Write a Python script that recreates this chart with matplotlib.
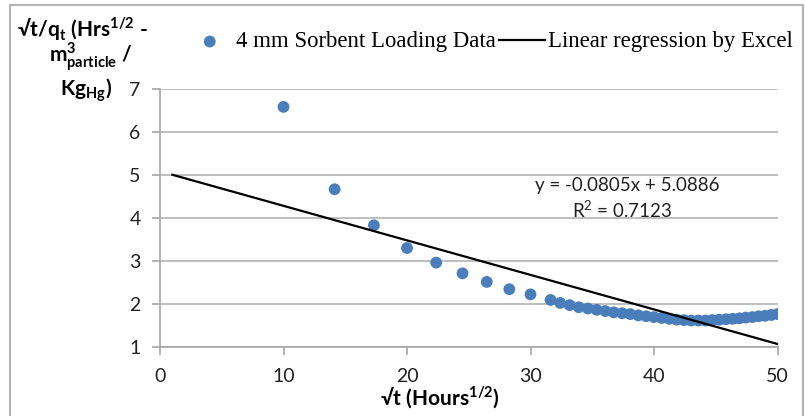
import numpy as np
import matplotlib
matplotlib.use("Agg")
import matplotlib.pyplot as plt
from matplotlib.lines import Line2D

# time in hours (x axis is sqrt of time)
hours = [100, 200, 300, 400, 500, 600, 700, 800, 900, 1000,
         1050, 1100, 1150, 1200, 1250, 1300, 1350, 1400, 1450, 1500,
         1550, 1600, 1650, 1700, 1750, 1800, 1850, 1900, 1950, 2000,
         2050, 2100, 2150, 2200, 2250, 2300, 2350, 2400, 2450, 2500]
loading = [6.59, 4.67, 3.83, 3.30, 2.96, 2.71, 2.51, 2.34, 2.22, 2.09,
           2.02, 1.97, 1.92, 1.89, 1.86, 1.83, 1.80, 1.78, 1.76, 1.73,
           1.71, 1.69, 1.67, 1.65, 1.63, 1.62, 1.61, 1.61, 1.61, 1.62,
           1.63, 1.64, 1.65, 1.66, 1.68, 1.69, 1.71, 1.72, 1.74, 1.76]

# Excel trendline
slope = -0.0805
intercept = 5.0886
r_squared = 0.7123
fit_x = [1, 50]

plt.rcParams['mathtext.fontset'] = 'custom'
plt.rcParams['mathtext.rm'] = 'Lato'
plt.rcParams['mathtext.bf'] = 'Lato:bold'
sans = ['Lato', 'DejaVu Sans']

fig = plt.figure(figsize=(8.05, 4.16), dpi=100)
W, H = 805, 416
ax = fig.add_axes([160 / W, 1 - 346.7 / H, (777.5 - 160) / W, (346.7 - 89.3) / H])

x = np.sqrt(hours)
ax.scatter(x, loading, s=72, color='#4a7ebb', edgecolors='none', zorder=3,
           label='4 mm Sorbent Loading Data')
fy = [slope * v + intercept for v in fit_x]
ax.plot(fit_x, fy, color='black', lw=1.6, zorder=4,
        label='Linear regression by Excel')

ax.set_xlim(0, 50)
ax.set_ylim(1, 7)
ax.set_xticks(range(0, 51, 10))
ax.set_yticks(range(1, 8))
ax.grid(axis='y', color='#b3b3b3', lw=1.2)
ax.set_axisbelow(True)
for s in ['top', 'right']:
    ax.spines[s].set_visible(False)
for s in ['left', 'bottom']:
    ax.spines[s].set_color('#a6a6a6')
    ax.spines[s].set_linewidth(1.2)
ax.tick_params(colors='#a6a6a6', length=6, width=1.2, labelcolor='#222222',
               labelsize=14)
for lab in ax.get_xticklabels() + ax.get_yticklabels():
    lab.set_family(sans)
ax.tick_params(axis='x', pad=9)
ax.tick_params(axis='y', pad=8)

ax.text(0.757, 0.628, f"y = {slope}x + {intercept}", transform=ax.transAxes,
        ha='center', va='center', fontsize=13.5, family=sans, color='#222222')
ax.text(0.748, 0.532, f"R$^2$ = {r_squared}", transform=ax.transAxes,
        ha='center', va='center', fontsize=13.5, family=sans, color='#222222')

# y label (three lines, like Excel wraps it)
fig.text(82 / W, 1 - 29 / H, r"√t/q$_\mathbf{t}$ (Hrs$^\mathbf{1/2}$ -", ha='center',
         va='center', fontsize=15, fontweight='bold', family=sans)
fig.text(91 / W, 1 - 57 / H, r"$\mathbf{m}^\mathbf{3}_\mathbf{particle}$ /", ha='center',
         va='center', fontsize=15, fontweight='bold', family=sans)
fig.text(86 / W, 1 - 90 / H, r"Kg$_\mathbf{Hg}$)", ha='center',
         va='center', fontsize=15, fontweight='bold', family=sans)

fig.text(440 / W, 1 - 398 / H, r"√t (Hours$^\mathbf{1/2}$)", ha='center',
         va='center', fontsize=15, fontweight='bold', family=sans)

leg = ax.legend(loc='center', bbox_to_anchor=(490 / W, 1 - 42 / H),
                bbox_transform=fig.transFigure, ncol=2, frameon=False,
                prop={'family': 'Liberation Serif', 'size': 16.4},
                handlelength=2.0, handletextpad=0.15, columnspacing=0.15,
                markerscale=1.0, borderpad=0)

# chart area border
fig.add_artist(Line2D([10 / W, 10 / W, 803 / W, 803 / W],
                      [0, 1 - 5 / H, 1 - 5 / H, 0],
                      transform=fig.transFigure, color='#b3b3b3', lw=1.5))

fig.savefig('out.png', dpi=100)
